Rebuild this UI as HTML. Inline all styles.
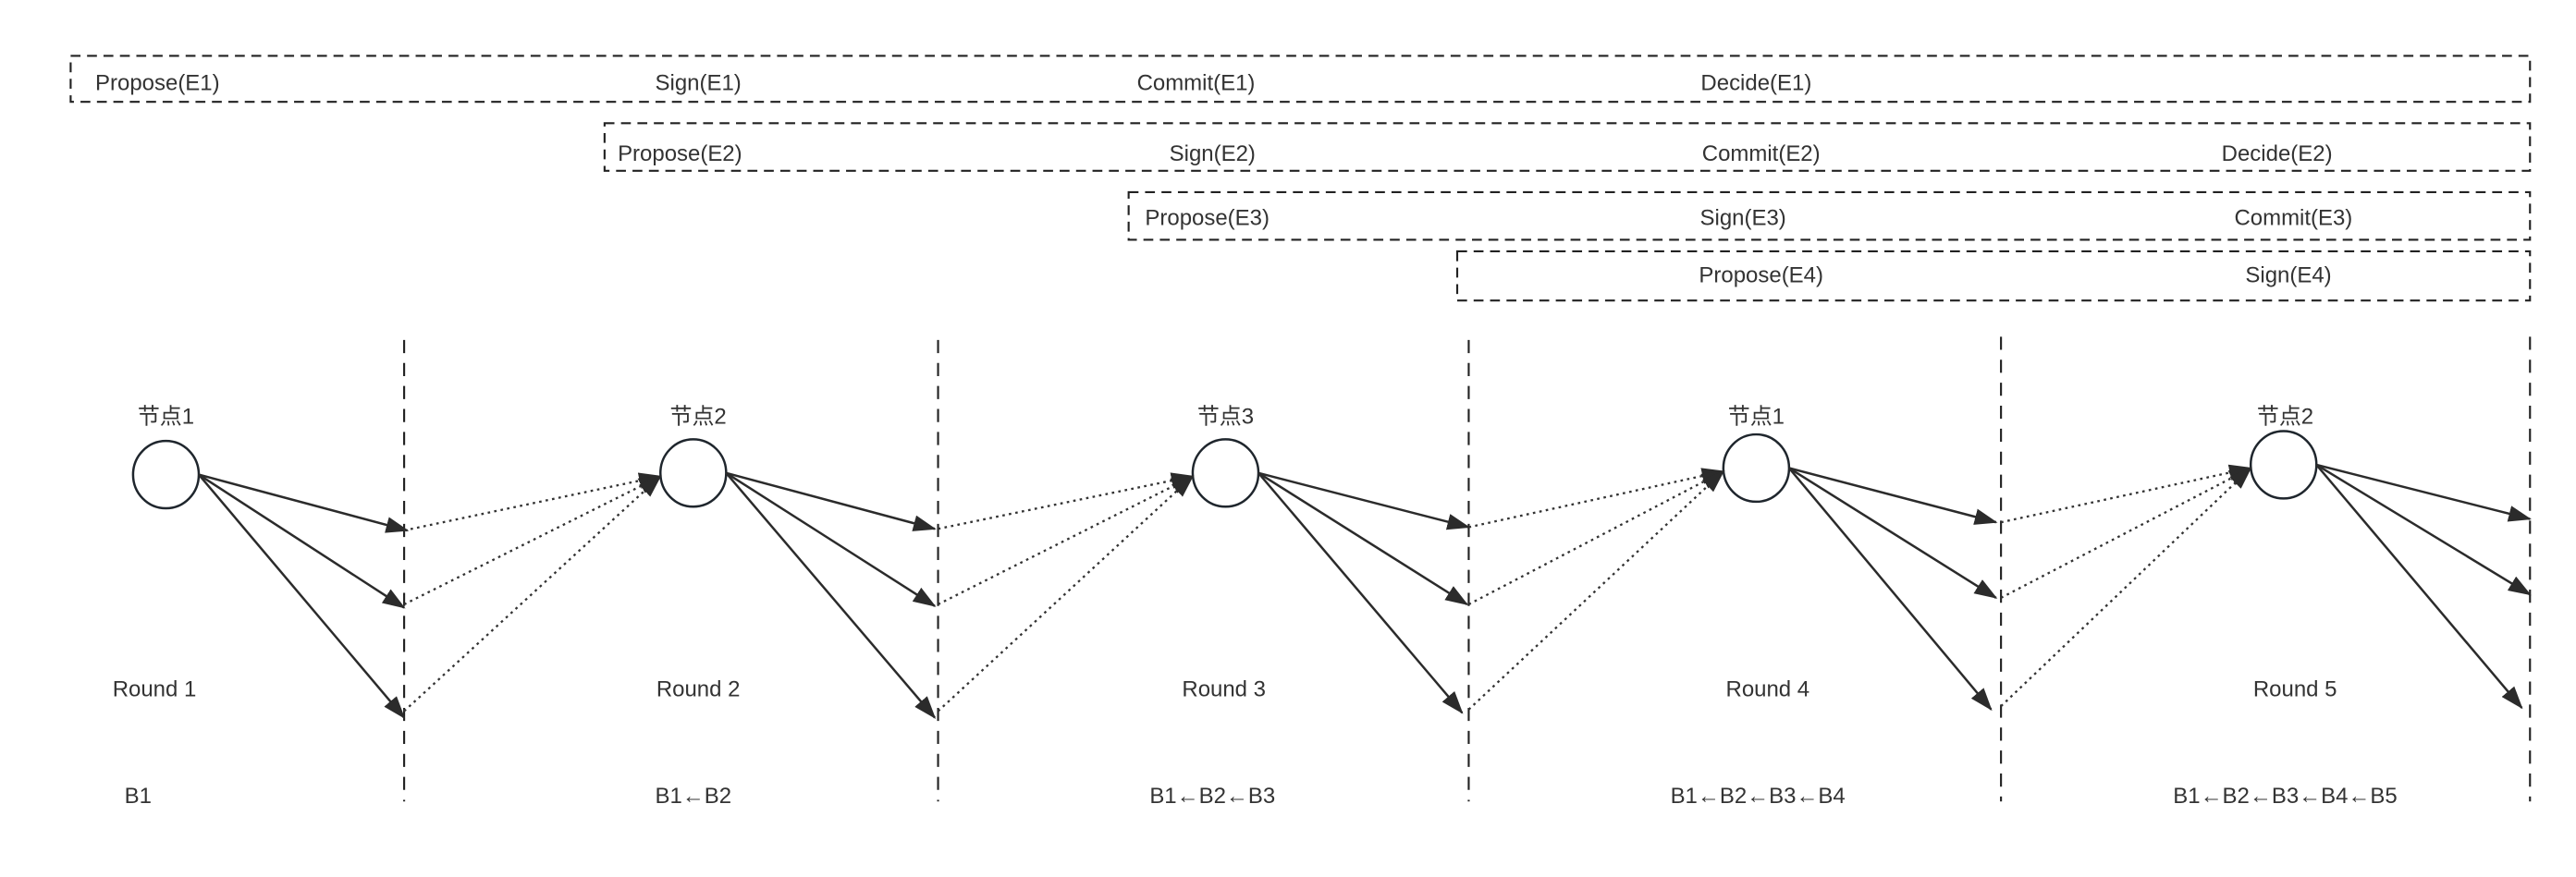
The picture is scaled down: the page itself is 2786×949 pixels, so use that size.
<!DOCTYPE html>
<html><head><meta charset="utf-8"><style>
html,body{margin:0;padding:0;background:#fff;}
svg{display:block;}
text{font-family:"Liberation Sans","Noto Sans CJK SC",sans-serif;font-size:13.5px;fill:#333;}
</style></head><body>
<svg width="2786" height="949" viewBox="0 0 1568 534" preserveAspectRatio="none" xmlns="http://www.w3.org/2000/svg">
<defs>
<marker id="a" markerWidth="14" markerHeight="10" refX="13" refY="5" orient="auto" markerUnits="userSpaceOnUse">
<path d="M0,0 L14,5 L0,10 Z" fill="#2b2b2b"/></marker>
</defs>
<g fill="none" stroke="#222" stroke-width="1.2" stroke-dasharray="6,4">
<rect x="43" y="34" width="1497" height="28"/>
<rect x="368" y="75" width="1172" height="29"/>
<rect x="687" y="117" width="853" height="29"/>
<rect x="887" y="153" width="653" height="30"/>
<line x1="246" y1="207" x2="246" y2="488" stroke-dasharray="8,6"/>
<line x1="571" y1="207" x2="571" y2="488" stroke-dasharray="8,6"/>
<line x1="894" y1="207" x2="894" y2="488" stroke-dasharray="8,6"/>
<line x1="1218" y1="205" x2="1218" y2="488" stroke-dasharray="8,6"/>
<line x1="1540" y1="205" x2="1540" y2="488" stroke-dasharray="8,6"/>
</g>
<g>
<text x="58" y="55">Propose(E1)</text>
<text x="425" y="55" text-anchor="middle">Sign(E1)</text>
<text x="728" y="55" text-anchor="middle">Commit(E1)</text>
<text x="1069" y="55" text-anchor="middle">Decide(E1)</text>
<text x="376" y="98">Propose(E2)</text>
<text x="738" y="98" text-anchor="middle">Sign(E2)</text>
<text x="1072" y="98" text-anchor="middle">Commit(E2)</text>
<text x="1386" y="98" text-anchor="middle">Decide(E2)</text>
<text x="697" y="137">Propose(E3)</text>
<text x="1061" y="137" text-anchor="middle">Sign(E3)</text>
<text x="1396" y="137" text-anchor="middle">Commit(E3)</text>
<text x="1072" y="172" text-anchor="middle">Propose(E4)</text>
<text x="1393" y="172" text-anchor="middle">Sign(E4)</text>
</g>
<g fill="none" stroke="#1f262d" stroke-width="1.4">
<ellipse cx="101" cy="289" rx="20" ry="20.5"/>
<ellipse cx="422" cy="288" rx="20" ry="20.5"/>
<ellipse cx="746" cy="288" rx="20" ry="20.5"/>
<ellipse cx="1069" cy="285" rx="20" ry="20.5"/>
<ellipse cx="1390" cy="283" rx="20" ry="20.5"/>
</g>
<g text-anchor="middle">
<text x="101" y="258">节点1</text><text x="425" y="258">节点2</text><text x="746" y="258">节点3</text><text x="1069" y="258">节点1</text><text x="1391" y="258">节点2</text>
<text x="94" y="424">Round 1</text><text x="425" y="424">Round 2</text><text x="745" y="424">Round 3</text><text x="1076" y="424">Round 4</text><text x="1397" y="424">Round 5</text>
<text x="84" y="489">B1</text><text x="422" y="489">B1←B2</text><text x="738" y="489">B1←B2←B3</text><text x="1070" y="489">B1←B2←B3←B4</text><text x="1391" y="489">B1←B2←B3←B4←B5</text>
</g>
<g stroke="#2b2b2b" stroke-width="1.4" marker-end="url(#a)">
<line x1="121" y1="289" x2="248" y2="323"/><line x1="121" y1="289" x2="246" y2="370"/><line x1="121" y1="289" x2="246" y2="437"/>
<line x1="442" y1="288" x2="569" y2="322"/><line x1="442" y1="288" x2="569" y2="369"/><line x1="442" y1="288" x2="569" y2="437"/>
<line x1="766" y1="288" x2="894" y2="321"/><line x1="766" y1="288" x2="893" y2="368"/><line x1="766" y1="288" x2="890" y2="434"/>
<line x1="1089" y1="285" x2="1215" y2="318"/><line x1="1089" y1="285" x2="1215" y2="364"/><line x1="1089" y1="285" x2="1212" y2="432"/>
<line x1="1410" y1="283" x2="1540" y2="316"/><line x1="1410" y1="283" x2="1540" y2="362"/><line x1="1410" y1="283" x2="1535" y2="431"/>
</g>
<g stroke="#333" stroke-width="1.3" stroke-dasharray="1.5,2.5" marker-end="url(#a)">
<line x1="246" y1="323" x2="402" y2="290"/><line x1="246" y1="368" x2="402" y2="290"/><line x1="246" y1="433" x2="402" y2="290"/>
<line x1="571" y1="322" x2="726" y2="290"/><line x1="571" y1="368" x2="726" y2="290"/><line x1="571" y1="433" x2="726" y2="290"/>
<line x1="894" y1="321" x2="1049" y2="287"/><line x1="894" y1="368" x2="1049" y2="287"/><line x1="894" y1="432" x2="1049" y2="287"/>
<line x1="1218" y1="318" x2="1370" y2="285"/><line x1="1218" y1="364" x2="1370" y2="285"/><line x1="1218" y1="430" x2="1370" y2="285"/>
</g>
</svg>
</body></html>
